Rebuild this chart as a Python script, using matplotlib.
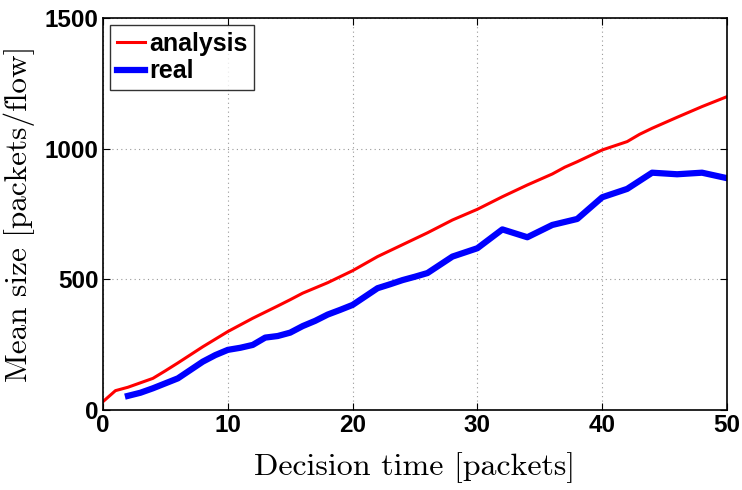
import matplotlib
matplotlib.use('Agg')
import matplotlib.pyplot as plt

# analysis curve
x_analysis = [0, 1, 2, 4, 5, 6, 8, 10, 12, 14, 15, 16, 18, 20, 22, 26, 28, 30,
              32, 34, 36, 37, 38, 40, 42, 43, 44, 46, 48, 50]
y_analysis = [32, 74, 87, 121, 150, 180, 242, 300, 351, 398, 422, 447, 487, 533,
              587, 678, 727, 768, 816, 861, 903, 929, 950, 995, 1027, 1055, 1078,
              1120, 1161, 1199]

# measured curve
x_real = [2, 3, 4, 5, 6, 7, 8, 9, 10, 11, 12, 13, 14, 15, 16, 17, 18, 19, 20,
          21, 22, 23, 24, 25, 26, 28, 30, 32, 34, 36, 38, 40, 42, 44, 46, 48, 50]
y_real = [54, 66, 83, 102, 121, 153, 185, 210, 230, 238, 249, 277, 283, 296, 321,
          341, 365, 383, 402, 434, 466, 481, 497, 510, 524, 587, 619, 691, 661,
          708, 731, 814, 846, 908, 902, 908, 887]

fig = plt.figure(figsize=(7.42, 4.9), dpi=100)
ax = fig.add_axes([0.1388, 0.1633, 0.841, 0.80])

ax.plot(x_analysis, y_analysis, color='#ff0000', lw=2.2, label='analysis')
ax.plot(x_real, y_real, color='#0000ff', lw=4.5, label='real')

ax.set_xlim(0, 50)
ax.set_ylim(0, 1500)
ax.set_xticks([0, 10, 20, 30, 40, 50])
ax.set_yticks([0, 500, 1000, 1500])
ax.grid(True, linestyle=(0, (1, 3)), color='#999999', lw=0.8)
ax.tick_params(direction='in', top=True, right=True, length=5, width=0.8, pad=3)
for lab in ax.get_xticklabels() + ax.get_yticklabels():
    lab.set_fontfamily('Liberation Sans')
    lab.set_fontweight('bold')
    lab.set_fontsize(17.5)
for s in ax.spines.values():
    s.set_linewidth(1.2)

ax.set_xlabel('Decision time [packets]', fontfamily='cmr10', fontsize=23, labelpad=11)
ax.set_ylabel('Mean size [packets/flow]', fontfamily='cmr10', fontsize=22.5, labelpad=7)

leg = ax.legend(loc='upper left', prop={'family': 'Liberation Sans', 'weight': 'bold', 'size': 18},
                frameon=True, fancybox=False, edgecolor='black', handlelength=1.15,
                handletextpad=0.15, borderpad=0.25, labelspacing=0.15, borderaxespad=0.3)
leg.get_frame().set_linewidth(1.0)

fig.savefig('out.png', dpi=100)
